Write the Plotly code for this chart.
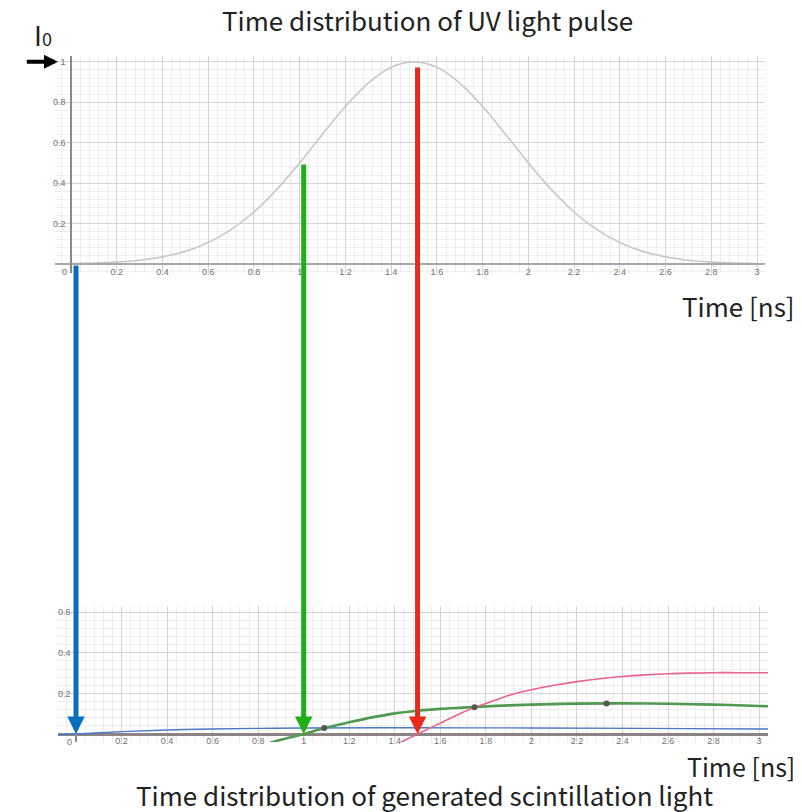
import plotly.graph_objects as go

# ---------------- data ----------------
pulse_t = [0.0, 0.1, 0.2, 0.3, 0.4, 0.5, 0.6, 0.7, 0.8, 0.9, 1.0, 1.1, 1.2, 1.3, 1.4, 1.5,
           1.6, 1.7, 1.8, 1.9, 2.0, 2.1, 2.2, 2.3, 2.4, 2.5, 2.6, 2.7, 2.8, 2.9, 3.0]
pulse_i = [0.002, 0.004, 0.009, 0.018, 0.035, 0.062, 0.106, 0.170, 0.257, 0.369, 0.500,
           0.642, 0.779, 0.895, 0.973, 1.000, 0.973, 0.895, 0.779, 0.642, 0.500, 0.369,
           0.257, 0.170, 0.106, 0.062, 0.035, 0.018, 0.009, 0.004, 0.002]

blue_t = [-0.08, 0.0, 0.2, 0.4, 0.6, 0.8, 1.0, 1.5, 2.0, 2.5, 3.0, 3.04]
blue_y = [-0.004, 0.0, 0.012, 0.020, 0.025, 0.028, 0.030, 0.031, 0.030, 0.028, 0.025, 0.025]

green_t = [0.82, 0.9, 1.0, 1.1, 1.2, 1.3, 1.4, 1.5, 1.6, 1.7, 1.8, 1.9, 2.0, 2.2, 2.4,
           2.6, 2.8, 3.0, 3.04]
green_y = [-0.054, -0.028, 0.0, 0.032, 0.058, 0.082, 0.102, 0.115, 0.124, 0.130, 0.136,
           0.141, 0.145, 0.150, 0.151, 0.149, 0.145, 0.138, 0.137]

pink_t = [1.41, 1.5, 1.6, 1.7, 1.75, 1.8, 1.9, 2.0, 2.1, 2.2, 2.3, 2.4, 2.5, 2.6, 2.7,
          2.8, 2.9, 3.0, 3.04]
pink_y = [-0.05, 0.0, 0.054, 0.107, 0.132, 0.150, 0.190, 0.218, 0.240, 0.258, 0.272,
          0.283, 0.291, 0.297, 0.300, 0.302, 0.302, 0.302, 0.302]

dot_t = [1.09, 1.75, 2.33]
dot_y = [0.030, 0.132, 0.151]

arrow_t = [0.0, 1.0, 1.5]
arrow_from = [0.0, 0.5, 0.98]
arrow_colors = ["#0a6ebd", "#1fae14", "#e62a1c"]

top_xticks = [0.2, 0.4, 0.6, 0.8, 1.0, 1.2, 1.4, 1.6, 1.8, 2.0, 2.2, 2.4, 2.6, 2.8, 3.0]
top_xtext = ["0.2", "0.4", "0.6", "0.8", "1", "1.2", "1.4", "1.6", "1.8", "2", "2.2",
             "2.4", "2.6", "2.8", "3"]
top_yticks = [0.2, 0.4, 0.6, 0.8, 1.0]
top_ytext = ["0.2", "0.4", "0.6", "0.8", "1"]
bot_yticks = [0.2, 0.4, 0.6]
bot_ytext = ["0.2", "0.4", "0.6"]

title_top = "Time distribution of UV light pulse"
title_bot = "Time distribution of generated scintillation light"
axis_label = "Time [ns]"

# ---------------- layout geometry ----------------
W, H = 802, 812
x1_dom = [55 / W, 765 / W]
y1_dom = [1 - 273 / H, 1 - 56 / H]
x1_rng = [-0.07, 3.035]
y1_rng = [-0.045, 1.029]

x2_dom = [58 / W, 768 / W]
y2_dom = [1 - 742 / H, 1 - 606 / H]
x2_rng = [-0.079, 3.039]
y2_rng = [-0.039, 0.63]


def frac(v, rng, dom):
    return dom[0] + (v - rng[0]) / (rng[1] - rng[0]) * (dom[1] - dom[0])


def paper_to_y2(p):
    return y2_rng[0] + (p - y2_dom[0]) / (y2_dom[1] - y2_dom[0]) * (y2_rng[1] - y2_rng[0])


FONT = "Noto Sans CJK JP"
TICKFONT = dict(family="Liberation Sans, Arial", size=9, color="#707070")
MAJOR = "#d4d4d4"
MINOR = "#eeeeee"

fig = go.Figure()

fig.add_trace(go.Scatter(x=pulse_t, y=pulse_i, mode="lines", line=dict(color="#c8c8c8", width=1.6, shape="spline"),
                         xaxis="x", yaxis="y", showlegend=False, hoverinfo="skip"))

fig.add_trace(go.Scatter(x=blue_t, y=blue_y, mode="lines", line=dict(color="#4a78c8", width=1.4, shape="spline"),
                         xaxis="x2", yaxis="y2", showlegend=False))
fig.add_trace(go.Scatter(x=green_t, y=green_y, mode="lines", line=dict(color="#4f9a4f", width=2.6, shape="spline"),
                         xaxis="x2", yaxis="y2", showlegend=False))
fig.add_trace(go.Scatter(x=pink_t, y=pink_y, mode="lines", line=dict(color="#e8648e", width=1.6, shape="spline"),
                         xaxis="x2", yaxis="y2", showlegend=False))
fig.add_trace(go.Scatter(x=dot_t, y=dot_y, mode="markers", marker=dict(color="#555555", size=6),
                         xaxis="x2", yaxis="y2", showlegend=False))


def xaxis_common(dom, rng, pos, showline, linecolor, linewidth):
    return dict(domain=dom, range=rng, anchor="free", position=pos, showline=showline,
                linecolor=linecolor, linewidth=linewidth, zeroline=False,
                tickvals=top_xticks, ticktext=top_xtext, ticks="", tickfont=TICKFONT,
                showgrid=True, gridcolor=MAJOR, gridwidth=1,
                minor=dict(tickmode="linear", tick0=0, dtick=0.04, showgrid=True, gridcolor=MINOR, gridwidth=1),
                fixedrange=True)


def yaxis_common(dom, rng, pos, tv, tt, zeroline=False):
    return dict(domain=dom, range=rng, anchor="free", position=pos, showline=True,
                linecolor="#8a8a8a", linewidth=1.5, zeroline=zeroline,
                zerolinecolor="#8c8484", zerolinewidth=3,
                tickvals=tv, ticktext=tt, ticks="outside", ticklen=3, tickcolor="rgba(0,0,0,0)",
                tickfont=TICKFONT, showgrid=True, gridcolor=MAJOR, gridwidth=1,
                minor=dict(tickmode="linear", tick0=0, dtick=0.04, showgrid=True, gridcolor=MINOR, gridwidth=1),
                fixedrange=True)


fig.update_layout(
    width=W, height=H, margin=dict(l=0, r=0, t=0, b=0),
    paper_bgcolor="white", plot_bgcolor="white", showlegend=False,
    xaxis=xaxis_common(x1_dom, x1_rng, frac(0, y1_rng, y1_dom), True, "#a8a8a8", 1.5),
    yaxis=yaxis_common(y1_dom, y1_rng, frac(0, x1_rng, x1_dom), top_yticks, top_ytext),
    xaxis2=xaxis_common(x2_dom, x2_rng, frac(0, y2_rng, y2_dom), False, "#8c8484", 1),
    yaxis2=yaxis_common(y2_dom, y2_rng, frac(0, x2_rng, x2_dom), bot_yticks, bot_ytext, zeroline=True),
)

annotations = []
# origin labels
for xr, yr in (("x", "y"), ("x2", "y2")):
    annotations.append(dict(text="0", x=0, y=0, xref=xr, yref=yr, xanchor="right", yanchor="top",
                            xshift=-2, yshift=-1, showarrow=False, font=TICKFONT))

# vertical arrows from the pulse to the scintillation plot
for t, v, c in zip(arrow_t, arrow_from, arrow_colors):
    p = frac(v, y1_rng, y1_dom)
    annotations.append(dict(text="", x=t, y=0, xref="x2", yref="y2", ax=t, ay=paper_to_y2(p),
                            axref="x2", ayref="y2", showarrow=True, arrowhead=2, arrowsize=0.7,
                            arrowwidth=5, arrowcolor=c, standoff=0))

# I0 pointer
annotations.append(dict(text="", x=-0.057, y=1, xref="x", yref="y", ax=-0.2, ay=1, axref="x", ayref="y",
                        showarrow=True, arrowhead=2, arrowsize=0.7, arrowwidth=4, arrowcolor="black", standoff=0))
annotations.append(dict(text="I<span style='font-size:18px'>0</span>", x=32 / W, y=1 - 34 / H,
                        xref="paper", yref="paper", xanchor="left", yanchor="middle", showarrow=False,
                        font=dict(family=FONT, size=27, color="#222222")))

annotations.append(dict(text=title_top, x=428 / W, y=1 - 20 / H, xref="paper", yref="paper",
                        xanchor="center", yanchor="middle", showarrow=False,
                        font=dict(family=FONT, size=26, color="#222222")))
annotations.append(dict(text=axis_label, x=797 / W, y=1 - 305 / H, xref="paper", yref="paper",
                        xanchor="right", yanchor="middle", showarrow=False,
                        font=dict(family=FONT, size=26, color="#222222")))
annotations.append(dict(text=axis_label, x=797 / W, y=1 - 766 / H, xref="paper", yref="paper",
                        xanchor="right", yanchor="middle", showarrow=False,
                        font=dict(family=FONT, size=25, color="#222222")))
annotations.append(dict(text=title_bot, x=424 / W, y=1 - 794 / H, xref="paper", yref="paper",
                        xanchor="center", yanchor="middle", showarrow=False,
                        font=dict(family=FONT, size=26, color="#222222")))

fig.update_layout(annotations=annotations)

fig.write_html("out.html", config={"displayModeBar": False},
               post_script="document.body.style.margin='0px';")
